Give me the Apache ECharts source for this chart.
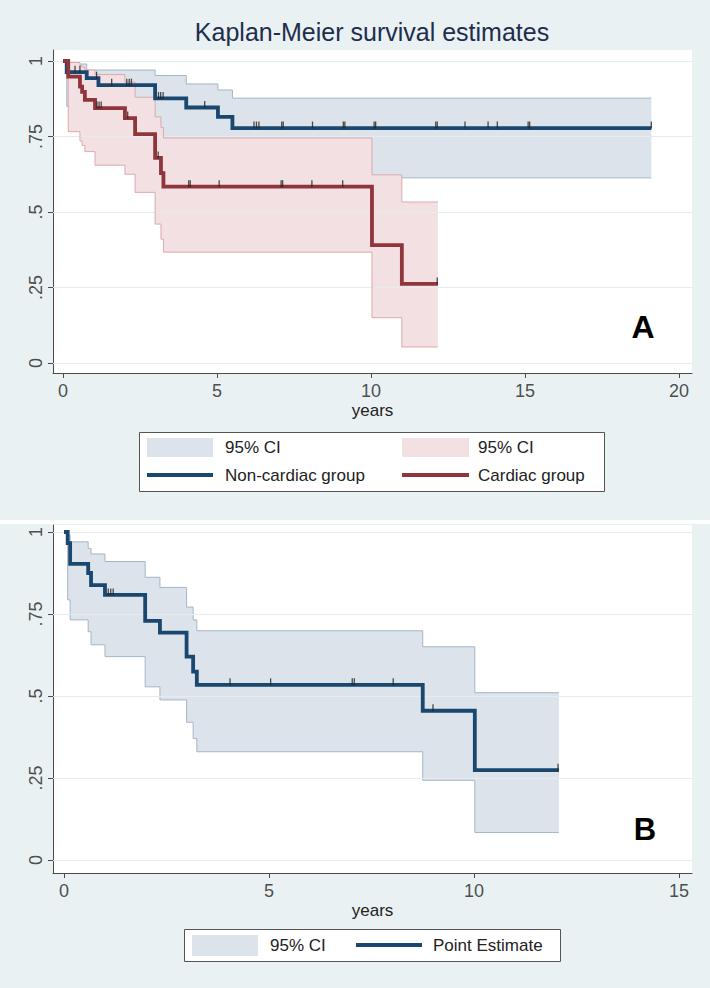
<!DOCTYPE html>
<html><head><meta charset="utf-8">
<script src="https://cdn.jsdelivr.net/npm/echarts@6/dist/echarts.min.js"></script>
<style>html,body{margin:0;padding:0;background:#fff}#c{width:710px;height:988px}</style>
</head><body><div id="c"></div>
<script>
// ---------- tick labels ----------
const yearTicksA = [0, 5, 10, 15, 20];
const yearTicksB = [0, 5, 10, 15];
const survTicks = [0, 0.25, 0.5, 0.75, 1];
const survTickLabels = ['0', '.25', '.5', '.75', '1'];

// ---------- Panel A: Non-cardiac group ----------
const ncTime  = [0, 0.12, 0.77, 1.15, 2.99, 4.0, 5.03, 5.5, 19.1];
const ncSurv  = [1, 0.963, 0.943, 0.92, 0.876, 0.846, 0.815, 0.778, 0.778];
const ncUpper = [1, 0.99, 0.97, 0.97, 0.952, 0.924, 0.904, 0.877, 0.877];
const ncLower = [1, 0.85, 0.82, 0.79, 0.74, 0.70, 0.66, 0.613, 0.613];
const ncCensor = [0.39, 0.55, 1.09, 1.58, 2.07, 2.15, 2.22, 3.1, 3.17, 3.25, 4.6, 6.2, 6.28, 6.36,
                  7.1, 7.15, 8.1, 9.1, 9.15, 10.1, 10.15, 12.1, 12.15, 13.05, 13.8, 14.1, 15.1, 15.15, 19.1];

// ---------- Panel A: Cardiac group ----------
const cTime  = [0, 0.17, 0.55, 0.62, 0.71, 1.04, 2.01, 2.34, 2.99, 3.18, 3.26, 10.03, 11.0, 12.17];
const cSurv  = [1, 0.948, 0.915, 0.898, 0.871, 0.844, 0.811, 0.758, 0.679, 0.629, 0.584, 0.39, 0.262, 0.262];
const cUpper = [1, 0.995, 0.985, 0.98, 0.97, 0.955, 0.93, 0.88, 0.815, 0.78, 0.745, 0.623, 0.533, 0.533];
const cLower = [1, 0.766, 0.735, 0.72, 0.70, 0.655, 0.625, 0.565, 0.46, 0.41, 0.367, 0.15, 0.053, 0.053];
const cCensor = [1.1, 1.17, 1.24, 2.1, 3.09, 4.08, 4.13, 5.07, 7.08, 7.13, 8.08, 9.08, 12.15];

// ---------- Panel B: Point Estimate ----------
const pTime  = [0, 0.09, 0.15, 0.59, 0.66, 1.0, 1.98, 2.34, 2.99, 3.15, 3.24, 8.75, 10.02, 12.07];
const pSurv  = [1, 0.966, 0.903, 0.875, 0.838, 0.808, 0.729, 0.693, 0.62, 0.574, 0.534, 0.455, 0.274, 0.274];
const pUpper = [1, 0.99, 0.97, 0.95, 0.933, 0.91, 0.862, 0.831, 0.771, 0.732, 0.699, 0.65, 0.51, 0.51];
const pLower = [1, 0.793, 0.732, 0.696, 0.656, 0.62, 0.528, 0.488, 0.42, 0.37, 0.33, 0.243, 0.084, 0.084];
const pCensor = [1.08, 1.14, 1.2, 4.05, 5.04, 7.03, 7.08, 8.03, 9.0, 12.05];

// ---------- styles ----------
const FONT = 'Liberation Sans';
const BG = '#e9f1f3';
const BLUE = '#1a476f', RED = '#90353b';
const BLUE_FILL = '#dde3ea', BLUE_EDGE = '#a3b6c9';
const RED_FILL = '#f2e0e2', RED_EDGE = '#dcaaae';
const GRIDC = '#e4ecee';
const AXC = '#4a4a4a';
const TICKFS = 18;

// axis extents (panel A, panel B)
const xExtA = [-0.325, 20.42], yExtA = [-0.0331, 1.0364];
const xExtB = [-0.268, 15.317], yExtB = [-0.0396, 1.0213];

function zip(t, v) { return t.map((x, i) => [x, v[i]]); }
function survAt(times, surv, t) {
  let s = surv[0];
  for (let i = 0; i < times.length; i++) if (times[i] <= t + 1e-9) s = surv[i];
  return s;
}
function bandSeries(times, lower, upper, fill, ai, z) {
  return {
    type: 'custom', xAxisIndex: ai, yAxisIndex: ai, z: z, silent: true,
    data: times.map((t, i) => [t, lower[i], upper[i]]),
    encode: { x: 0, y: [1, 2] },
    renderItem: function (params, api) {
      if (params.dataIndex !== 0) return null;
      const pts = [];
      for (let i = 0; i < times.length; i++) {
        if (i > 0) pts.push(api.coord([times[i], upper[i - 1]]));
        pts.push(api.coord([times[i], upper[i]]));
      }
      for (let i = times.length - 1; i >= 0; i--) {
        pts.push(api.coord([times[i], lower[i]]));
        if (i > 0) pts.push(api.coord([times[i], lower[i - 1]]));
      }
      return { type: 'polygon', shape: { points: pts }, style: { fill: fill, stroke: null } };
    }
  };
}
function stepLine(times, vals, color, width, ai, z) {
  return {
    type: 'line', step: 'end', xAxisIndex: ai, yAxisIndex: ai, z: z, silent: true,
    data: zip(times, vals), symbol: 'none',
    lineStyle: { color: color, width: width, cap: 'butt', join: 'miter' }
  };
}
function censorSeries(cens, times, surv, ai, z) {
  return {
    type: 'scatter', xAxisIndex: ai, yAxisIndex: ai, z: z, silent: true,
    data: cens.map(t => [t, survAt(times, surv, t)]),
    symbol: 'rect', symbolSize: [1.3, 7], symbolOffset: [0, -3],
    itemStyle: { color: '#222' }
  };
}
function gridLines(ai) {
  return {
    type: 'line', xAxisIndex: ai, yAxisIndex: ai, data: [], z: 1, silent: true,
    markLine: {
      silent: true, symbol: ['none', 'none'], label: { show: false }, animation: false,
      lineStyle: { color: GRIDC, width: 1, type: 'solid' },
      data: survTicks.map(v => ({ yAxis: v }))
    }
  };
}
// tick labels drawn as labels of invisible points placed by the axes' scales
function xTickLabels(ticks, yMin, ai) {
  return {
    type: 'scatter', xAxisIndex: ai, yAxisIndex: ai, z: 8, silent: true, clip: false,
    data: ticks.map(v => [v, yMin]), symbolSize: 1, itemStyle: { color: 'rgba(0,0,0,0)' },
    label: {
      show: true, position: 'bottom', distance: 8, color: '#222',
      fontSize: TICKFS, fontFamily: FONT,
      formatter: p => String(p.value[0])
    }
  };
}
function yTickLabels(xMin, ai) {
  return {
    type: 'scatter', xAxisIndex: ai, yAxisIndex: ai, z: 8, silent: true, clip: false,
    data: survTicks.map((v, i) => [xMin, v, survTickLabels[i]]), symbolSize: 1,
    itemStyle: { color: 'rgba(0,0,0,0)' },
    label: {
      show: true, position: 'left', distance: 8, rotate: 90, align: 'center', verticalAlign: 'bottom',
      color: '#222', fontSize: TICKFS, fontFamily: FONT,
      formatter: p => p.value[2]
    }
  };
}
function xAx(ai, ext, ticks) {
  return {
    gridIndex: ai, type: 'value', min: ext[0], max: ext[1],
    axisLine: { show: true, onZero: false, lineStyle: { color: AXC, width: 1 } },
    axisTick: { show: true, customValues: ticks, length: 5, lineStyle: { color: AXC } },
    axisLabel: { show: false },
    splitLine: { show: false },
    name: 'years', nameLocation: 'middle', nameGap: 29,
    nameTextStyle: { color: '#222', fontSize: 17, fontFamily: FONT }
  };
}
function yAx(ai, ext) {
  return {
    gridIndex: ai, type: 'value', min: ext[0], max: ext[1],
    axisLine: { show: true, onZero: false, lineStyle: { color: AXC, width: 1 } },
    axisTick: { show: true, customValues: survTicks, length: 5, lineStyle: { color: AXC } },
    axisLabel: { show: false },
    splitLine: { show: false }
  };
}
function txt(text, x, y, size, color, align, weight) {
  return {
    type: 'text', x: x, y: y, z: 100, silent: true,
    style: {
      text: text, fill: color, font: (weight || 'normal') + ' ' + size + 'px "' + FONT + '", Arial, sans-serif',
      textAlign: align || 'left', textVerticalAlign: 'middle', align: align || 'left', verticalAlign: 'middle'
    }
  };
}
function rect(x, y, w, h, fill, stroke, z) {
  return { type: 'rect', z: z, silent: true, shape: { x: x, y: y, width: w, height: h },
           style: { fill: fill, stroke: stroke || null, lineWidth: stroke ? 1 : 0 } };
}
function hline(x1, x2, y, color, w) {
  return { type: 'line', z: 101, silent: true, shape: { x1: x1, y1: y, x2: x2, y2: y },
           style: { stroke: color, lineWidth: w } };
}

const chart = echarts.init(document.getElementById('c'), null, { renderer: 'svg', width: 710, height: 988 });
chart.setOption({
  animation: false,
  backgroundColor: '#fff',
  textStyle: { fontFamily: FONT },
  grid: [
    { left: 53, top: 50, width: 639, height: 323, show: true, backgroundColor: '#fff', borderWidth: 0 },
    { left: 53, top: 525, width: 639, height: 348, show: true, backgroundColor: '#fff', borderWidth: 0 }
  ],
  xAxis: [xAx(0, xExtA, yearTicksA), xAx(1, xExtB, yearTicksB)],
  yAxis: [yAx(0, yExtA), yAx(1, yExtB)],
  series: [
    gridLines(0),
    bandSeries(ncTime, ncLower, ncUpper, BLUE_FILL, 0, 2),
    stepLine(ncTime, ncUpper, BLUE_EDGE, 1, 0, 3),
    stepLine(ncTime, ncLower, BLUE_EDGE, 1, 0, 3),
    bandSeries(cTime, cLower, cUpper, RED_FILL, 0, 4),
    stepLine(cTime, cUpper, RED_EDGE, 1, 0, 5),
    stepLine(cTime, cLower, RED_EDGE, 1, 0, 5),
    stepLine(ncTime, ncSurv, BLUE, 3.8, 0, 6),
    stepLine(cTime, cSurv, RED, 3.8, 0, 6),
    censorSeries(ncCensor, ncTime, ncSurv, 0, 7),
    censorSeries(cCensor, cTime, cSurv, 0, 7),
    xTickLabels(yearTicksA, yExtA[0], 0),
    yTickLabels(xExtA[0], 0),

    gridLines(1),
    bandSeries(pTime, pLower, pUpper, BLUE_FILL, 1, 2),
    stepLine(pTime, pUpper, BLUE_EDGE, 1, 1, 3),
    stepLine(pTime, pLower, BLUE_EDGE, 1, 1, 3),
    stepLine(pTime, pSurv, BLUE, 3.8, 1, 6),
    censorSeries(pCensor, pTime, pSurv, 1, 7),
    xTickLabels(yearTicksB, yExtB[0], 1),
    yTickLabels(xExtB[0], 1)
  ],
  graphic: [
    rect(0, 0, 710, 520, BG, null, -10),
    rect(0, 524, 710, 464, BG, null, -10),
    txt('Kaplan-Meier survival estimates', 372, 32, 25, '#1f2d4d', 'center'),
    txt('A', 643, 327, 32, '#000', 'center', 'bold'),
    txt('B', 645, 829, 31, '#000', 'center', 'bold'),
    // legend A
    rect(139.5, 432.5, 465, 59, '#fff', '#555', 99),
    rect(147, 438, 66, 19, BLUE_FILL, null, 100),
    txt('95% CI', 225, 447, 17, '#222', 'left'),
    rect(402, 438, 67, 19, RED_FILL, null, 100),
    txt('95% CI', 478, 447, 17, '#222', 'left'),
    hline(147, 213, 475, BLUE, 4),
    txt('Non-cardiac group', 225, 475, 17, '#222', 'left'),
    hline(402, 469, 475, RED, 4),
    txt('Cardiac group', 478, 475, 17, '#222', 'left'),
    // legend B
    rect(184.5, 929.5, 376, 32, '#fff', '#555', 99),
    rect(192, 935, 66, 21, BLUE_FILL, null, 100),
    txt('95% CI', 270, 945, 17, '#222', 'left'),
    hline(356, 422, 945, BLUE, 4),
    txt('Point Estimate', 433, 945, 17, '#222', 'left')
  ]
});
</script>
</body></html>
